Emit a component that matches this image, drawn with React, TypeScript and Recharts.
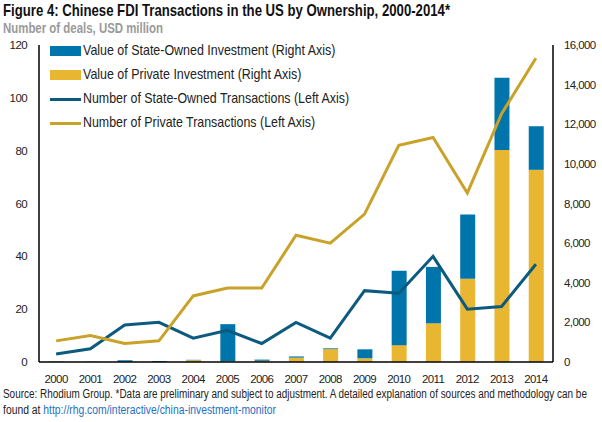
import { ComposedChart, Bar, Line, XAxis, YAxis, Legend } from 'recharts';

const years = ['2000', '2001', '2002', '2003', '2004', '2005', '2006', '2007', '2008', '2009', '2010', '2011', '2012', '2013', '2014'];
// USD million, right axis
const privateValue = [20, 5, 10, 5, 90, 40, 60, 220, 650, 190, 850, 1950, 4200, 10700, 9700];
const stateValue = [10, 10, 80, 40, 20, 1870, 60, 60, 40, 450, 3750, 2850, 3250, 3650, 2200];
// number of deals, left axis
const stateDeals = [3, 5, 14, 15, 9, 12, 7, 15, 9, 27, 26, 40, 20, 21, 37];
const privateDeals = [8, 10, 7, 8, 25, 28, 28, 48, 45, 56, 82, 85, 64, 94, 115];

const leftTicks = [0, 20, 40, 60, 80, 100, 120];
const rightTicks = [0, 2000, 4000, 6000, 8000, 10000, 12000, 14000, 16000];

const BLUE = '#0075AC';
const GOLD = '#E8B631';
const TEAL = '#0D5A7F';
const OCHRE = '#C9A22A';
const FAMILY = "'Liberation Sans', Arial, sans-serif";

const data = years.map((year, i) => ({
  year,
  privateValue: privateValue[i],
  stateValue: stateValue[i],
  stateDeals: stateDeals[i],
  privateDeals: privateDeals[i],
}));

const legendItems = [
  { label: 'Value of State-Owned Investment (Right Axis)', color: BLUE, kind: 'bar', w: 253 },
  { label: 'Value of Private Investment (Right Axis)', color: GOLD, kind: 'bar', w: 219 },
  { label: 'Number of State-Owned Transactions (Left Axis)', color: TEAL, kind: 'line', w: 267 },
  { label: 'Number of Private Transactions (Left Axis)', color: OCHRE, kind: 'line', w: 233 },
];

let ctx: CanvasRenderingContext2D | null = null;
function measure(text: string, font: string) {
  if (!ctx) ctx = document.createElement('canvas').getContext('2d');
  if (!ctx) return text.length * 6;
  ctx.font = font;
  return ctx.measureText(text).width;
}

// squeeze a line of text to the width it has in the reference (narrow font)
function FitText({ text, width, size, bold, left, center, color, children }: any) {
  const font = `${bold ? 'bold ' : ''}${size}px ${FAMILY}`;
  const k = width / measure(text, font);
  return (
    <div
      style={{
        position: 'absolute',
        left,
        top: center - size * 0.6,
        height: size * 1.2,
        lineHeight: `${size * 1.2}px`,
        font,
        color,
        whiteSpace: 'nowrap',
        transform: `scaleX(${k})`,
        transformOrigin: '0 50%',
      }}
    >
      {children || text}
    </div>
  );
}

function ChartLegend() {
  return (
    <div style={{ position: 'relative', width: 300, height: 96 }}>
      {legendItems.map((item, i) => (
        <div key={item.label}>
          <div
            style={{
              position: 'absolute',
              left: 0,
              top: 12 + i * 24 - (item.kind === 'bar' ? 5 : 1.5),
              width: 31,
              height: item.kind === 'bar' ? 10 : 3,
              background: item.color,
            }}
          />
          <FitText text={item.label} width={item.w} size={14.5} left={33} center={12 + i * 24} color="#222" />
        </div>
      ))}
    </div>
  );
}

const fmt = (v: number) => v.toLocaleString('en-US');
const tickStyle = { fontSize: 11.5, fill: '#222', fontFamily: FAMILY, letterSpacing: -0.6 };

export default function App() {
  const url = 'http://rhg.com/interactive/china-investment-monitor';
  return (
    <div style={{ position: 'fixed', left: 0, top: 0, width: 602, height: 422, background: '#fff', fontFamily: FAMILY }}>
      <div style={{ position: 'absolute', left: 0, top: 0 }}>
        <ComposedChart width={602} height={400} data={data} margin={{ top: 45, right: 0, bottom: 15, left: 0 }} barCategoryGap={0}>
          <XAxis
            dataKey="year"
            height={23}
            tickLine={false}
            tickMargin={7}
            axisLine={{ stroke: '#000', strokeWidth: 1.5 }}
            tick={tickStyle}
            interval={0}
          />
          <YAxis
            yAxisId="left"
            orientation="left"
            width={39}
            domain={[0, 120]}
            ticks={leftTicks}
            tickLine={false}
            tickMargin={6}
            axisLine={{ stroke: '#000', strokeWidth: 1.5 }}
            tick={tickStyle}
          />
          <YAxis
            yAxisId="right"
            orientation="right"
            width={49}
            domain={[0, 16000]}
            ticks={rightTicks}
            tickFormatter={fmt}
            tickLine={false}
            tickMargin={5}
            axisLine={{ stroke: '#000', strokeWidth: 1.5 }}
            tick={{ ...tickStyle, textAnchor: 'start' }}
          />
          <Legend
            layout="vertical"
            align="center"
            verticalAlign="middle"
            wrapperStyle={{ left: 50, top: 39, width: 320, height: 96 }}
            content={() => <ChartLegend />}
          />
          <Bar yAxisId="right" dataKey="privateValue" stackId="v" fill={GOLD} barSize={15} isAnimationActive={false} />
          <Bar yAxisId="right" dataKey="stateValue" stackId="v" fill={BLUE} barSize={15} isAnimationActive={false} />
          <Line yAxisId="left" type="linear" dataKey="stateDeals" stroke={TEAL} strokeWidth={3} dot={false} isAnimationActive={false} />
          <Line yAxisId="left" type="linear" dataKey="privateDeals" stroke={OCHRE} strokeWidth={3} dot={false} isAnimationActive={false} />
        </ComposedChart>
      </div>
      <FitText
        text="Figure 4: Chinese FDI Transactions in the US by Ownership, 2000-2014*"
        width={447}
        size={16.5}
        bold
        left={3}
        center={11}
        color="#111"
      />
      <FitText text="Number of deals, USD million" width={160} size={14} bold left={3} center={28} color="#9a9a9a" />
      <FitText
        text="Source: Rhodium Group. *Data are preliminary and subject to adjustment. A detailed explanation of sources and methodology can be"
        width={585}
        size={12.5}
        left={3}
        center={394}
        color="#222"
      />
      <FitText text={'found at ' + url} width={273} size={12.5} left={3} center={410} color="#222">
        found at <span style={{ color: '#1f6fbf' }}>{url}</span>
      </FitText>
    </div>
  );
}
